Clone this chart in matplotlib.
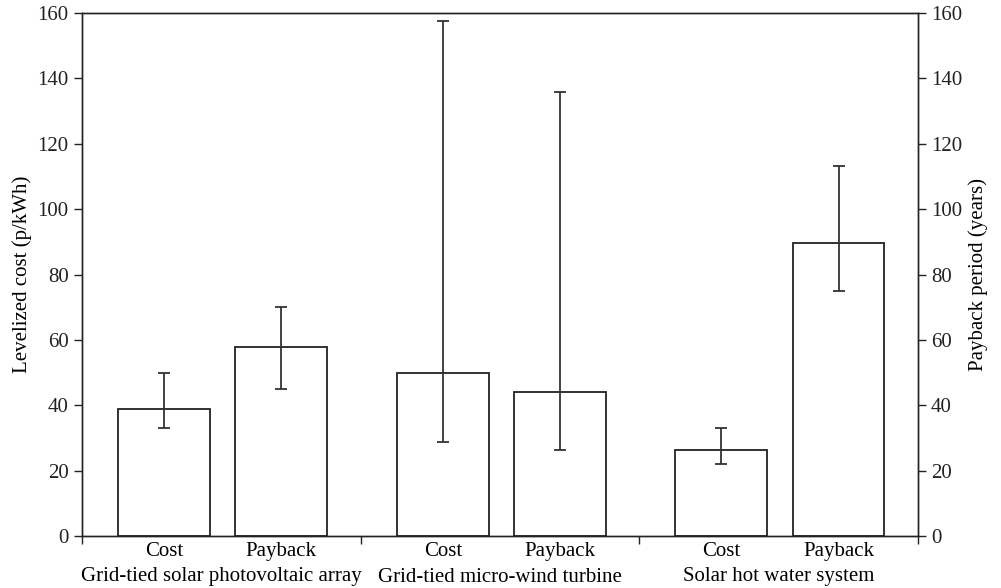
import matplotlib.pyplot as plt
import numpy as np
from matplotlib.transforms import blended_transform_factory

plt.rcParams['font.family'] = ['Liberation Serif', 'DejaVu Serif']

# data
systems = ["Grid-tied solar photovoltaic array", "Grid-tied micro-wind turbine", "Solar hot water system"]
cost = [39, 50, 26.3]
cost_low = [33, 29, 22]
cost_high = [50, 157.5, 33]
payback = [58, 44, 89.6]
payback_low = [45, 26.3, 75]
payback_high = [70, 135.6, 113]

groups = np.arange(len(systems))
cost_x = groups + 0.295
pay_x = groups + 0.715
width = 0.33
fs = 15

fig = plt.figure(figsize=(10.01, 5.88), dpi=100)
ax = fig.add_axes([0.0819, 0.0876, 0.917 - 0.0819, 0.9787 - 0.0876])

cost_err = [np.array(cost) - np.array(cost_low), np.array(cost_high) - np.array(cost)]
pay_err = [np.array(payback) - np.array(payback_low), np.array(payback_high) - np.array(payback)]

ax.bar(cost_x, cost, width, color="white", edgecolor="#222222", linewidth=1.3,
       yerr=cost_err, error_kw=dict(ecolor="#333333", elinewidth=1.3, capsize=4.5, capthick=1.3))
ax.bar(pay_x, payback, width, color="white", edgecolor="#222222", linewidth=1.3,
       yerr=pay_err, error_kw=dict(ecolor="#333333", elinewidth=1.3, capsize=4.5, capthick=1.3))

ax.set_xlim(0, 3)
ax.set_ylim(0, 160)
ax.set_yticks(range(0, 161, 20))
ax.set_xticks([0, 1, 2, 3])
ax.set_xticklabels([])
ax.tick_params(direction="out", length=6, width=1, labelsize=fs, colors="#222222")
ax.set_ylabel("Levelized cost (p/kWh)", fontsize=fs)

ax2 = ax.twinx()
ax2.set_ylim(0, 160)
ax2.set_yticks(range(0, 161, 20))
ax2.tick_params(direction="out", length=6, width=1, labelsize=fs, colors="#222222")
ax2.set_ylabel("Payback period (years)", fontsize=fs)

for a in (ax, ax2):
    for s in a.spines.values():
        s.set_linewidth(1.0)
        s.set_color("#222222")

trans = blended_transform_factory(ax.transData, fig.transFigure)
for i in groups:
    ax.text(cost_x[i], 1 - 551.7 / 588, "Cost", transform=trans, ha="center", va="center", fontsize=fs)
    ax.text(pay_x[i], 1 - 551.7 / 588, "Payback", transform=trans, ha="center", va="center", fontsize=fs)
    ax.text(i + 0.5, 1 - 577 / 588, systems[i], transform=trans, ha="center", va="center", fontsize=fs)

fig.savefig("out.png", dpi=100)
